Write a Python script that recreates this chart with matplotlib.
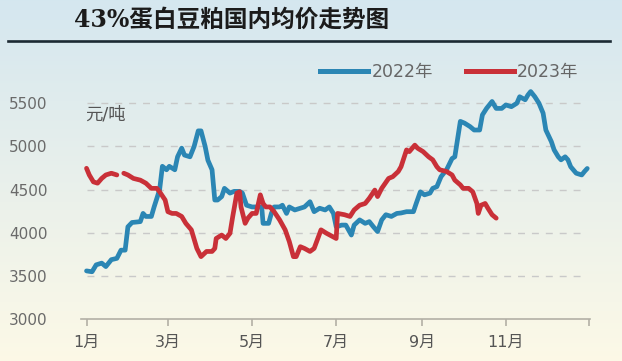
import numpy as np
import matplotlib
matplotlib.use("Agg")
import matplotlib.pyplot as plt
from matplotlib.lines import Line2D

plt.rcParams['font.family'] = ['DejaVu Sans', 'Noto Sans CJK SC']

# day of year (0 = Jan 1) and price
days_2022 = [0, 4, 7, 11, 14, 18, 22, 25, 28, 30, 33, 39, 41, 43, 47, 49, 53, 55, 58, 60,
             64, 66, 69, 71, 75, 78, 81, 83, 86, 88, 91, 93, 95, 98, 100, 104, 107, 111, 113, 116,
             120, 123, 127, 128, 132, 134, 136, 140, 142, 145, 147, 151, 155, 158, 162, 165, 169, 173, 176, 179,
             181, 185, 188, 192, 194, 198, 202, 205, 208, 211, 214, 217, 221, 225, 228, 232, 237, 239, 242, 245,
             249, 251, 254, 257, 261, 265, 267, 271, 274, 278, 281, 285, 287, 290, 294, 297, 301, 304, 308, 312,
             314, 318, 320, 322, 325, 328, 331, 333, 337, 339, 342, 344, 347, 349, 351, 355, 359, 361, 363]
price_2022 = [3560, 3550, 3630, 3650, 3610, 3690, 3705, 3800, 3800, 4070, 4120, 4130, 4225, 4190, 4190, 4300, 4500, 4770, 4730, 4770,
              4730, 4880, 4980, 4900, 4880, 5000, 5180, 5180, 5000, 4840, 4730, 4380, 4380, 4420, 4515, 4460, 4480, 4480, 4460, 4320,
              4300, 4300, 4300, 4110, 4110, 4225, 4300, 4300, 4320, 4225, 4300, 4265, 4285, 4300, 4360, 4245, 4285, 4265, 4300, 4225,
              4070, 4090, 4090, 3975, 4090, 4150, 4110, 4130, 4070, 4015, 4150, 4210, 4190, 4225, 4230, 4245, 4245, 4340, 4475, 4440,
              4460, 4515, 4535, 4650, 4730, 4860, 4880, 5290, 5270, 5230, 5190, 5190, 5365, 5440, 5520, 5440, 5440, 5480, 5460, 5500,
              5575, 5540, 5595, 5635, 5575, 5500, 5385, 5190, 5055, 4960, 4880, 4845, 4880, 4845, 4765, 4690, 4670, 4710, 4745]

days_2023 = [0, 2, 5, 8, 11, 14, 18, 22, 24, 27, 30, 34, 39, 43, 47, 51, 53, 57, 59, 62,
             65, 69, 72, 76, 80, 83, 87, 91, 93, 94, 98, 101, 104, 106, 109, 111, 112, 115, 117, 120,
             123, 126, 128, 130, 133, 136, 140, 144, 147, 150, 152, 155, 158, 162, 165, 170, 174, 181, 182, 187,
             191, 194, 198, 202, 205, 209, 211, 214, 219, 222, 226, 228, 232, 234, 238, 240, 244, 248, 251, 254,
             256, 261, 265, 267, 271, 273, 277, 280, 283, 284, 286, 289, 291, 294, 297]
price_2023 = [4747, 4670, 4590, 4575, 4630, 4670, 4690, 4670, np.nan, 4690, 4670, 4630, 4610, 4575, 4515, 4515, 4475, 4380, 4245, 4225,
              4225, 4190, 4110, 4035, 3820, 3725, 3785, 3785, 3820, 3935, 3975, 3935, 3995, 4190, 4460, 4475, 4300, 4110, 4170, 4225,
              4225, 4440, 4340, 4300, 4300, 4245, 4150, 4035, 3900, 3725, 3725, 3840, 3820, 3785, 3820, 4035, 3995, 3935, 4225, 4210,
              4190, 4265, 4320, 4340, 4400, 4495, 4420, 4515, 4630, 4650, 4710, 4765, 4960, 4940, 5015, 4980, 4940, 4880, 4845, 4765,
              4730, 4710, 4670, 4610, 4555, 4515, 4515, 4475, 4340, 4225, 4320, 4340, 4285, 4210, 4170]

month_days = [0, 59, 120, 181, 243, 304, 364]
month_labels = ["1月", "3月", "5月", "7月", "9月", "11月", ""]
y_ticks = [3000, 3500, 4000, 4500, 5000, 5500]

blue = "#2b86b4"
red = "#c93038"

fig = plt.figure(figsize=(6.22, 3.61), dpi=100)

# gradient background
bg = fig.add_axes([0, 0, 1, 1], zorder=-10)
grad = np.linspace(0, 1, 256).reshape(-1, 1)
top = np.array([0.835, 0.906, 0.94])
bottom = np.array([0.99, 0.976, 0.905])
img = top[None, None, :] * (1 - grad[:, :, None]) + bottom[None, None, :] * grad[:, :, None]
bg.imshow(img, aspect="auto", extent=[0, 1, 0, 1])
bg.axis("off")

ax = fig.add_axes([81 / 622, 1 - 319.3 / 361, 509 / 622, 259.3 / 361])
ax.patch.set_alpha(0)

ax.plot(days_2022, price_2022, color=blue, lw=3.4, solid_joinstyle="round",
        solid_capstyle="round", label="2022年", zorder=3)
ax.plot(days_2023, price_2023, color=red, lw=3.4, solid_joinstyle="round",
        solid_capstyle="round", label="2023年", zorder=4)

ax.set_xlim(-4, 365)
ax.set_ylim(3000, 6000)
ax.set_xticks(month_days)
ax.set_xticklabels(month_labels)
ax.set_yticks(y_ticks)
ax.set_yticklabels([str(v) for v in y_ticks])

for s in ["top", "right", "left"]:
    ax.spines[s].set_visible(False)
ax.spines["bottom"].set_color("#b3b0a6")
ax.spines["bottom"].set_linewidth(1.2)
ax.tick_params(axis="x", colors="#b3b0a6", length=5, width=1.2, pad=6,
               labelcolor="#555555", labelsize=11.5)
ax.tick_params(axis="y", length=0, pad=24, labelcolor="#6a6a6a", labelsize=11)

for v in y_ticks[1:]:
    ax.axhline(v, xmin=0.012, xmax=0.995, color="#c9c9c9", lw=1, ls=(0, (5, 5)), zorder=1)

ax.text(0.008, 0.79, "元/吨", transform=ax.transAxes, fontsize=12.5, color="#555555",
        va="center", ha="left")

fig.legend(handles=[Line2D([], [], color=blue, lw=3.6), Line2D([], [], color=red, lw=3.6)],
           labels=["2022年", "2023年"], loc="center", bbox_to_anchor=(449.5 / 622, 1 - 72 / 361),
           ncol=2, frameon=False, handlelength=2.75, handletextpad=0.2, columnspacing=1.9,
           fontsize=12.5, labelcolor="#666666")

# title and rule
fig.text(74 / 622, 1 - 20 / 361, "43%蛋白豆粕国内均价走势图", fontsize=17, fontweight="bold",
         color="#1b1b1b", va="center", ha="left",
         family=["DejaVu Serif", "Noto Sans CJK SC"])
fig.add_artist(Line2D([8 / 622, 610 / 622], [1 - 40.7 / 361] * 2, color="#1c2a33", lw=1.9))

fig.savefig("out.png", dpi=100)
